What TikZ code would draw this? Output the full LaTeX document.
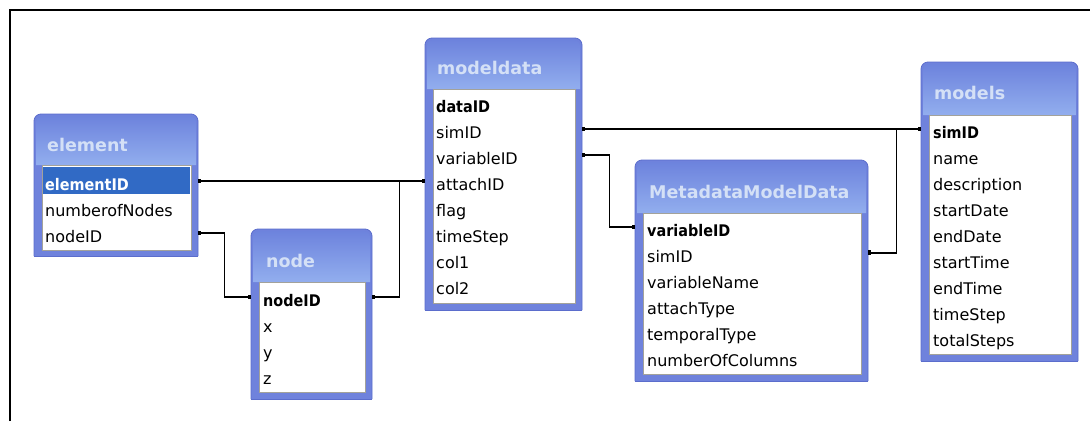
\documentclass[tikz,border=0pt]{standalone}
\usepackage{fontspec}
\setmainfont{DejaVu Sans}
\usepackage{graphicx}
\usetikzlibrary{arrows.meta}
\definecolor{frameblue}{HTML}{6F82DC}
\definecolor{edgeblue}{HTML}{5B6DCC}
\definecolor{hdtop}{HTML}{6D83DD}
\definecolor{hdbot}{HTML}{92AEEE}
\definecolor{titletext}{HTML}{D4E0F6}
\definecolor{fieldedge}{HTML}{A3A29A}
\definecolor{selblue}{HTML}{316AC5}
\newcommand\keytxt[1]{\scalebox{0.9}[1]{#1}}
\newcommand\dbtable[7]{%
  \node[tblbox, minimum width=#4pt-#2pt, minimum height=#5pt-#3pt] (#1) at (#2,#3) {};
  \fill[frameblue, rounded corners=7pt] (#2,#5) -- (#2,#3) -- (#4,#3) -- (#4,#5);
  \shade[top color=hdtop, bottom color=hdbot, rounded corners=6pt] (#2+2,#6) -- (#2+2,#3+2) -- (#4-2,#3+2) -- (#4-2,#6);
  \draw[edgeblue, line width=0.8pt, rounded corners=7pt] (#2,#5) -- (#2,#3) -- (#4,#3) -- (#4,#5);
  \draw[edgeblue, line width=0.8pt] (#2,#5) -- (#4,#5);
  \fill[white] (#2+8,#6) rectangle (#4-7,#7);
  \draw[fieldedge, line width=1pt] (#2+8,#6) rectangle (#4-7,#7);
}
\tikzset{
  tblbox/.style={draw=none, inner sep=0pt, anchor=north west},
  ttl/.style={anchor=base west, inner sep=0pt, font={\fontsize{17.5}{18}\bfseries}, text=titletext},
  row/.style={anchor=south west, inner sep=0pt, text height=20pt, text depth=0pt, font={\fontsize{16}{18}\selectfont}},
  key/.style={row, font={\fontsize{16}{18}\bfseries}},
  link/.style={line width=1.6pt, {Square[length=3pt,width=4.5pt]}-{Square[length=3pt,width=4.5pt]}},
  frameline/.style={line width=2pt},
}
\begin{document}
\begin{tikzpicture}[x=1pt,y=-1pt]
\useasboundingbox (0,0) rectangle (1090,421);
\fill[white] (0,0) rectangle (1090,421);
\draw[frameline] (10,421) -- (10,10) -- (1090,10);

% element
\dbtable{elbox}{34}{114}{198}{256}{165}{250}
\node[ttl] (elt) at (47,151) {element};
\fill[selblue] (43,167) rectangle (190,194);
\node[key, text=white] (el1) at (45,191) {\keytxt{elementID}};
\foreach \t [count=\i from 2] in {numberofNodes,nodeID}
  \node[row] (el\i) at (45,{191+(\i-1)*26}) {\t};

% node
\dbtable{ndbox}{251}{229}{372}{399}{282}{392}
\node[ttl] (ndt) at (266,267) {node};
\node[key] (nd1) at (263,307) {\keytxt{nodeID}};
\foreach \t [count=\i from 2] in {x,y,z}
  \node[row] (nd\i) at (263,{307+(\i-1)*26}) {\t};

% modeldata
\dbtable{mdbox}{425}{38}{582}{310}{89}{303}
\node[ttl] (mdt) at (437,74) {modeldata};
\node[key] (md1) at (436,113) {\keytxt{dataID}};
\foreach \t [count=\i from 2] in {simID,variableID,attachID,flag,timeStep,col1,col2}
  \node[row] (md\i) at (436,{113+(\i-1)*26}) {\t};

% MetadataModelData
\dbtable{mmbox}{635}{160}{868}{381}{213}{374}
\node[ttl] (mmt) at (649,198) {MetadataModelData};
\node[key] (mm1) at (647,237) {\keytxt{variableID}};
\foreach \t [count=\i from 2] in {simID,variableName,attachType,temporalType,numberOfColumns}
  \node[row] (mm\i) at (647,{237+(\i-1)*25.9}) {\t};

% models
\dbtable{mobox}{921}{62}{1078}{361}{115}{354}
\node[ttl] (mot) at (934,99) {models};
\node[key] (mo1) at (933,139) {\keytxt{simID}};
\foreach \t [count=\i from 2] in {name,description,startDate,endDate,startTime,endTime,timeStep,totalSteps}
  \node[row] (mo\i) at (933,{139+(\i-1)*25.9}) {\t};

% relationships
\draw[link] (elbox.east |- el1) -- (mdbox.west |- md4);
\draw[link] (ndbox.east |- nd1) -- ++(27,0) |- (mdbox.west |- md4);
\draw[link] (elbox.east |- el3) -- ++(26,0) |- (ndbox.west |- nd1);
\draw[link] (mdbox.east |- md2) -- (mobox.west |- md2);
\draw[link] (mdbox.east |- md3) -- ++(27,0) |- (mmbox.west |- mm1);
\draw[link] (mmbox.east |- mm2) -- ++(28,0) |- (mobox.west |- md2);
\end{tikzpicture}
\end{document}
